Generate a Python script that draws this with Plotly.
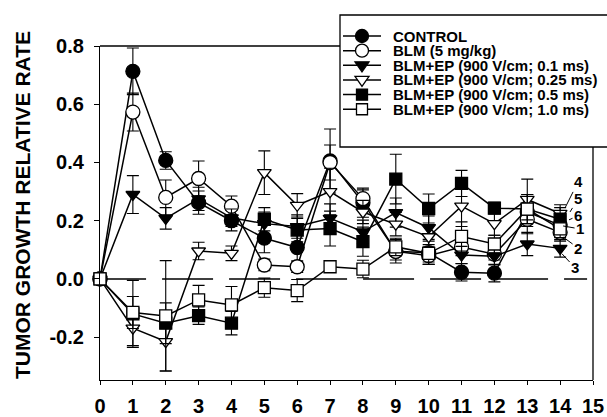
import plotly.graph_objects as go

# ---------------- data ----------------
days = list(range(15))
x_tick_vals = list(range(16))
x_tick_labels = [str(d) for d in range(16)]
y_tick_vals = [-0.2, 0.0, 0.2, 0.4, 0.6, 0.8]
y_tick_labels = ["-0.2", "0.0", "0.2", "0.4", "0.6", "0.8"]

series_names = [
    "CONTROL",
    "BLM (5 mg/kg)",
    "BLM+EP (900 V/cm; 0.1 ms)",
    "BLM+EP (900 V/cm; 0.25 ms)",
    "BLM+EP (900 V/cm; 0.5 ms)",
    "BLM+EP (900 V/cm; 1.0 ms)",
]

control = [0, 0.713, 0.407, 0.262, 0.200, 0.140, 0.108, 0.405, 0.262, 0.095, 0.090, 0.023, 0.020, 0.230, 0.185]
control_err = [0, 0.080, 0.030, 0.040, 0.035, 0.050, 0.050, 0.110, 0.050, 0.040, 0.040, 0.030, 0.030, 0.050, 0.030]

blm = [0, 0.573, 0.280, 0.345, 0.250, 0.048, 0.042, 0.400, 0.276, 0.095, 0.080, 0.110, 0.085, 0.205, 0.160]
blm_err = [0, 0.065, 0.060, 0.060, 0.035, 0.020, 0.020, 0.060, 0.030, 0.030, 0.030, 0.030, 0.020, 0.050, 0.030]

ep_01 = [0, 0.290, 0.208, 0.275, 0.210, 0.190, 0.180, 0.208, 0.162, 0.228, 0.176, 0.082, 0.078, 0.120, 0.105]
ep_01_err = [0, 0.065, 0.037, 0.040, 0.030, 0.040, 0.040, 0.050, 0.040, 0.050, 0.040, 0.030, 0.030, 0.040, 0.030]

ep_025 = [0, -0.169, -0.215, 0.096, 0.088, 0.365, 0.253, 0.300, 0.230, 0.188, 0.145, 0.250, 0.190, 0.273, 0.225]
ep_025_err = [0, 0.060, 0.100, 0.030, 0.025, 0.075, 0.040, 0.080, 0.040, 0.040, 0.040, 0.070, 0.040, 0.070, 0.030]

ep_05 = [0, -0.120, -0.152, -0.126, -0.152, 0.205, 0.168, 0.173, 0.128, 0.343, 0.242, 0.328, 0.243, 0.240, 0.205]
ep_05_err = [0, 0.115, 0.070, 0.030, 0.040, 0.040, 0.040, 0.060, 0.050, 0.085, 0.050, 0.045, 0.020, 0.050, 0.040]

ep_10 = [0, -0.115, -0.127, -0.072, -0.089, -0.030, -0.040, 0.042, 0.034, 0.110, 0.088, 0.146, 0.120, 0.240, 0.172]
ep_10_err = [0, 0.055, 0.190, 0.050, 0.063, 0.033, 0.038, 0.020, 0.030, 0.030, 0.030, 0.050, 0.030, 0.050, 0.030]

curve_labels = ["4", "5", "6", "1", "2", "3"]

values = [control, blm, ep_01, ep_025, ep_05, ep_10]
errors = [control_err, blm_err, ep_01_err, ep_025_err, ep_05_err, ep_10_err]

# ---------------- styles ----------------
FONT = "Liberation Sans, Arial, sans-serif"
W, H = 607, 417
L, R, T, B = 100, 14, 46, 37
PW, PH = W - L - R, H - T - B

styles = [
    dict(symbol="circle", size=14, color="black"),
    dict(symbol="circle", size=14, color="white"),
    dict(symbol="triangle-down", size=12, color="black"),
    dict(symbol="triangle-down", size=12, color="white"),
    dict(symbol="square", size=12, color="black"),
    dict(symbol="square", size=12, color="white"),
]


def px2paper(px, py):
    return (px - L) / PW, (H - B - py) / PH


fig = go.Figure()

for name, v, e, st in zip(series_names, values, errors, styles):
    fig.add_trace(go.Scatter(
        x=days, y=v, name=name, mode="lines+markers",
        line=dict(color="black", width=1.5),
        marker=dict(symbol=st["symbol"], size=st["size"], color=st["color"],
                    line=dict(color="black", width=1.3)),
        error_y=dict(type="data", array=e, color="black", thickness=1.1, width=6),
        cliponaxis=False, showlegend=False,
    ))

shapes = []
# zero reference dashed line
shapes.append(dict(type="line", xref="x", yref="y", x0=-0.15, x1=14.82, y0=0, y1=0,
                   line=dict(color="black", width=1.6, dash="51px,16px"), layer="below"))
# top & right frame (partially hidden by legend)
lx0, _ = px2paper(340, 0)
_, ly1 = px2paper(0, 147)
shapes.append(dict(type="line", xref="paper", yref="paper", x0=0, x1=lx0, y0=1, y1=1,
                   line=dict(color="black", width=1.3)))
shapes.append(dict(type="line", xref="paper", yref="paper", x0=1, x1=1, y0=0, y1=ly1,
                   line=dict(color="black", width=1.3)))

# manual legend
bx0, by0 = px2paper(340, 147)
bx1, by1 = px2paper(660, 15)
shapes.append(dict(type="rect", xref="paper", yref="paper", x0=bx0, x1=bx1, y0=by0, y1=by1,
                   line=dict(color="black", width=1.3), fillcolor="white", layer="below"))

row_y = [36.0 + 14.65 * i for i in range(6)]
annotations = []
MX = 362
for i, (name, st) in enumerate(zip(series_names, styles)):
    cy = row_y[i]
    a0, yy = px2paper(343, cy)
    a1, _ = px2paper(381, cy)
    shapes.append(dict(type="line", xref="paper", yref="paper", x0=a0, x1=a1, y0=yy, y1=yy,
                       line=dict(color="black", width=1.5)))
    mline = dict(color="black", width=1.3)
    if st["symbol"] == "circle":
        x0, y0 = px2paper(MX - 6.5, cy + 6.5)
        x1, y1 = px2paper(MX + 6.5, cy - 6.5)
        shapes.append(dict(type="circle", xref="paper", yref="paper", x0=x0, x1=x1, y0=y0, y1=y1,
                           line=mline, fillcolor=st["color"]))
    elif st["symbol"] == "square":
        x0, y0 = px2paper(MX - 5.5, cy + 5.5)
        x1, y1 = px2paper(MX + 5.5, cy - 5.5)
        shapes.append(dict(type="rect", xref="paper", yref="paper", x0=x0, x1=x1, y0=y0, y1=y1,
                           line=mline, fillcolor=st["color"]))
    else:
        p1 = px2paper(MX - 7, cy - 3.5)
        p2 = px2paper(MX + 7, cy - 3.5)
        p3 = px2paper(MX, cy + 6.5)
        path = "M {:.5f},{:.5f} L {:.5f},{:.5f} L {:.5f},{:.5f} Z".format(*p1, *p2, *p3)
        shapes.append(dict(type="path", xref="paper", yref="paper", path=path,
                           line=mline, fillcolor=st["color"]))
    tx, _ = px2paper(391, cy)
    annotations.append(dict(xref="paper", yref="paper", x=tx, y=yy, text=name, showarrow=False,
                            xanchor="left", yanchor="middle",
                            font=dict(family=FONT, size=15, color="black", weight="bold")))

# curve number labels: (tip x, tip y, ax, ay)
label_pos = [
    (14.15, 0.244, 13, -26),
    (14.30, 0.230, 8, -13),
    (14.27, 0.203, 9, -4),
    (14.09, 0.182, 17, 3),
    (14.09, 0.144, 15, 11),
    (14.06, 0.086, 13, 14),
]
for lab, (tx, ty, ax, ay) in zip(curve_labels, label_pos):
    annotations.append(dict(xref="x", yref="y", x=tx, y=ty, text=lab, showarrow=True,
                            arrowhead=0, arrowwidth=1, arrowcolor="black", ax=ax, ay=ay,
                            standoff=0, startstandoff=0,
                            font=dict(family=FONT, size=15, color="black", weight="bold")))

# y axis title
ytx, yty = px2paper(22, 205)
annotations.append(dict(xref="paper", yref="paper", x=ytx, y=yty, text="TUMOR GROWTH RELATIVE RATE",
                        textangle=-90, showarrow=False, xanchor="center", yanchor="middle",
                        font=dict(family=FONT, size=21, color="black", weight="bold")))

fig.update_layout(
    width=W, height=H,
    margin=dict(l=L, r=R, t=T, b=B, autoexpand=False),
    paper_bgcolor="white", plot_bgcolor="white",
    font=dict(family=FONT, color="black", size=20, weight="bold"),
    xaxis=dict(range=[0, 15], tickvals=x_tick_vals, ticktext=x_tick_labels,
               showgrid=False, zeroline=False, showline=True, linecolor="black", linewidth=1.3,
               ticks="outside", ticklen=4, tickwidth=1, tickcolor="black", ticklabelstandoff=4,
               tickfont=dict(family=FONT, size=20, color="black", weight="bold")),
    yaxis=dict(range=[-0.347, 0.8], tickvals=y_tick_vals, ticktext=y_tick_labels,
               showgrid=False, zeroline=False, showline=True, linecolor="black", linewidth=1.3,
               ticks="outside", ticklen=5, tickwidth=1, tickcolor="black", ticklabelstandoff=6,
               tickfont=dict(family=FONT, size=20, color="black", weight="bold")),
    shapes=shapes,
    annotations=annotations,
    showlegend=False,
)

fig.write_html(
    "out.html",
    config={"displayModeBar": False},
    post_script="document.body.style.margin='0px';document.body.style.padding='0px';"
                "document.body.style.overflow='hidden';",
)
